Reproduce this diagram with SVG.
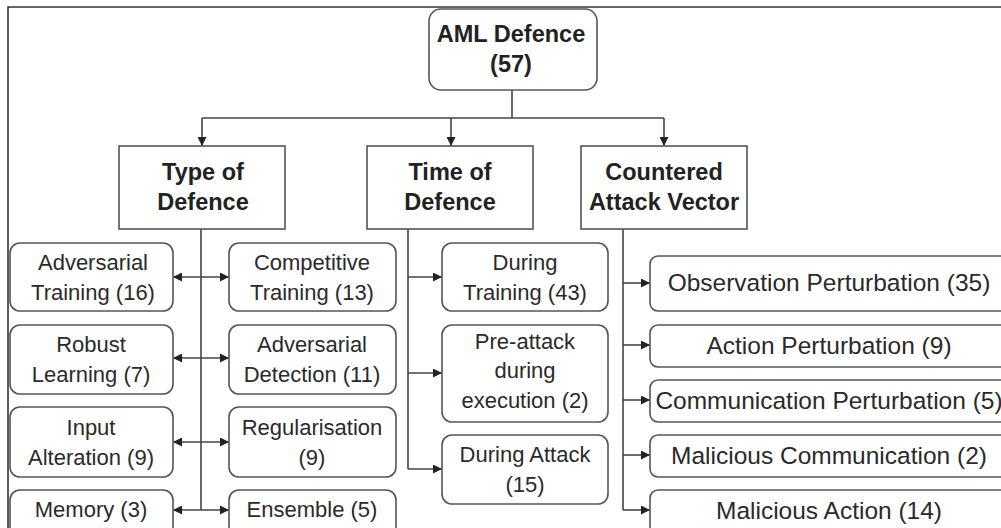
<svg xmlns="http://www.w3.org/2000/svg" width="1001" height="528" viewBox="0 0 1001 528">
<style>
.box{fill:#fff;stroke:#555;stroke-width:1.6}
.ln{fill:none;stroke:#444;stroke-width:1.6}
.h{font-family:"Liberation Sans",Arial,sans-serif;font-weight:bold;font-size:23.5px;fill:#222;text-anchor:middle}
.t{font-family:"Liberation Sans",Arial,sans-serif;font-size:22px;fill:#2a2a2a;text-anchor:middle}
.r{font-family:"Liberation Sans",Arial,sans-serif;font-size:24.5px;fill:#2a2a2a;text-anchor:middle}
</style>
<defs>
<marker id="ah" viewBox="0 0 10 10" refX="10" refY="5" markerWidth="10" markerHeight="9" markerUnits="userSpaceOnUse" orient="auto-start-reverse">
<path d="M0,0 L10,5 L0,10 z" fill="#222"/>
</marker>
</defs>
<rect x="0" y="0" width="1001" height="528" fill="#fff"/>
<path d="M8,528 V7 H1001" fill="none" stroke="#333" stroke-width="1.6"/>

<g id="connectors">
<path class="ln" d="M512,90 V118"/>
<path class="ln" d="M202,118 H664"/>
<path class="ln" d="M202,118 V146" marker-end="url(#ah)"/>
<path class="ln" d="M451,118 V146" marker-end="url(#ah)"/>
<path class="ln" d="M664,118 V146" marker-end="url(#ah)"/>
<path class="ln" d="M201,229 V510"/>
<path class="ln" d="M173,277 H229" marker-start="url(#ah)" marker-end="url(#ah)"/>
<path class="ln" d="M173,358 H229" marker-start="url(#ah)" marker-end="url(#ah)"/>
<path class="ln" d="M173,442 H229" marker-start="url(#ah)" marker-end="url(#ah)"/>
<path class="ln" d="M173,510 H229" marker-start="url(#ah)" marker-end="url(#ah)"/>
<path class="ln" d="M408,229 V469"/>
<path class="ln" d="M408,277 H442" marker-end="url(#ah)"/>
<path class="ln" d="M408,373 H442" marker-end="url(#ah)"/>
<path class="ln" d="M408,469 H442" marker-end="url(#ah)"/>
<path class="ln" d="M623,229 V510"/>
<path class="ln" d="M623,283 H650" marker-end="url(#ah)"/>
<path class="ln" d="M623,345 H650" marker-end="url(#ah)"/>
<path class="ln" d="M623,400 H650" marker-end="url(#ah)"/>
<path class="ln" d="M623,455 H650" marker-end="url(#ah)"/>
<path class="ln" d="M623,510 H650" marker-end="url(#ah)"/>
</g>

<g id="root"><rect class="box" x="429" y="9" width="168" height="81" rx="12"/>
<text class="h" x="511" y="42">AML Defence</text><text class="h" x="511" y="72">(57)</text></g>

<g id="type"><rect class="box" x="119" y="146" width="166" height="83"/>
<text class="h" x="203" y="180">Type of</text><text class="h" x="203" y="210">Defence</text></g>
<g id="time"><rect class="box" x="367" y="146" width="166" height="83"/>
<text class="h" x="450" y="180">Time of</text><text class="h" x="450" y="210">Defence</text></g>
<g id="vector"><rect class="box" x="581" y="146" width="166" height="83"/>
<text class="h" x="664" y="180">Countered</text><text class="h" x="664" y="210">Attack Vector</text></g>

<g id="adv-training"><rect class="box" x="10" y="243" width="163" height="68" rx="10"/>
<text class="t" x="93" y="270">Adversarial</text><text class="t" x="93" y="300">Training (16)</text></g>
<g id="robust"><rect class="box" x="10" y="325" width="163" height="69" rx="10"/>
<text class="t" x="91" y="352">Robust</text><text class="t" x="91" y="382">Learning (7)</text></g>
<g id="input"><rect class="box" x="10" y="407" width="163" height="70" rx="10"/>
<text class="t" x="91" y="435">Input</text><text class="t" x="91" y="465">Alteration (9)</text></g>
<g id="memory"><rect class="box" x="10" y="490" width="163" height="56" rx="10"/>
<text class="t" x="91" y="517">Memory (3)</text></g>

<g id="competitive"><rect class="box" x="229" y="243" width="167" height="68" rx="10"/>
<text class="t" x="312" y="270">Competitive</text><text class="t" x="312" y="300">Training (13)</text></g>
<g id="detection"><rect class="box" x="229" y="325" width="167" height="69" rx="10"/>
<text class="t" x="312" y="352">Adversarial</text><text class="t" x="312" y="382">Detection (11)</text></g>
<g id="regular"><rect class="box" x="229" y="407" width="167" height="70" rx="10"/>
<text class="t" x="312" y="435">Regularisation</text><text class="t" x="312" y="465">(9)</text></g>
<g id="ensemble"><rect class="box" x="229" y="490" width="167" height="56" rx="10"/>
<text class="t" x="312" y="517">Ensemble (5)</text></g>

<g id="during-training"><rect class="box" x="442" y="243" width="166" height="68" rx="10"/>
<text class="t" x="525" y="270">During</text><text class="t" x="525" y="300">Training (43)</text></g>
<g id="pre-attack"><rect class="box" x="442" y="325" width="166" height="97" rx="10"/>
<text class="t" x="525" y="349">Pre-attack</text><text class="t" x="525" y="378">during</text><text class="t" x="525" y="408">execution (2)</text></g>
<g id="during-attack"><rect class="box" x="442" y="435" width="166" height="69" rx="10"/>
<text class="t" x="525" y="462">During Attack</text><text class="t" x="525" y="492">(15)</text></g>

<g id="obs"><rect class="box" x="650" y="256" width="370" height="55" rx="8"/>
<text class="r" x="829" y="291">Observation Perturbation (35)</text></g>
<g id="act"><rect class="box" x="650" y="325" width="370" height="42" rx="8"/>
<text class="r" x="829" y="354">Action Perturbation (9)</text></g>
<g id="comm"><rect class="box" x="650" y="380" width="370" height="42" rx="8"/>
<text class="r" x="829" y="409">Communication Perturbation (5)</text></g>
<g id="malcomm"><rect class="box" x="650" y="435" width="370" height="42" rx="8"/>
<text class="r" x="829" y="464">Malicious Communication (2)</text></g>
<g id="malact"><rect class="box" x="650" y="490" width="370" height="56" rx="8"/>
<text class="r" x="829" y="519">Malicious Action (14)</text></g>
</svg>
